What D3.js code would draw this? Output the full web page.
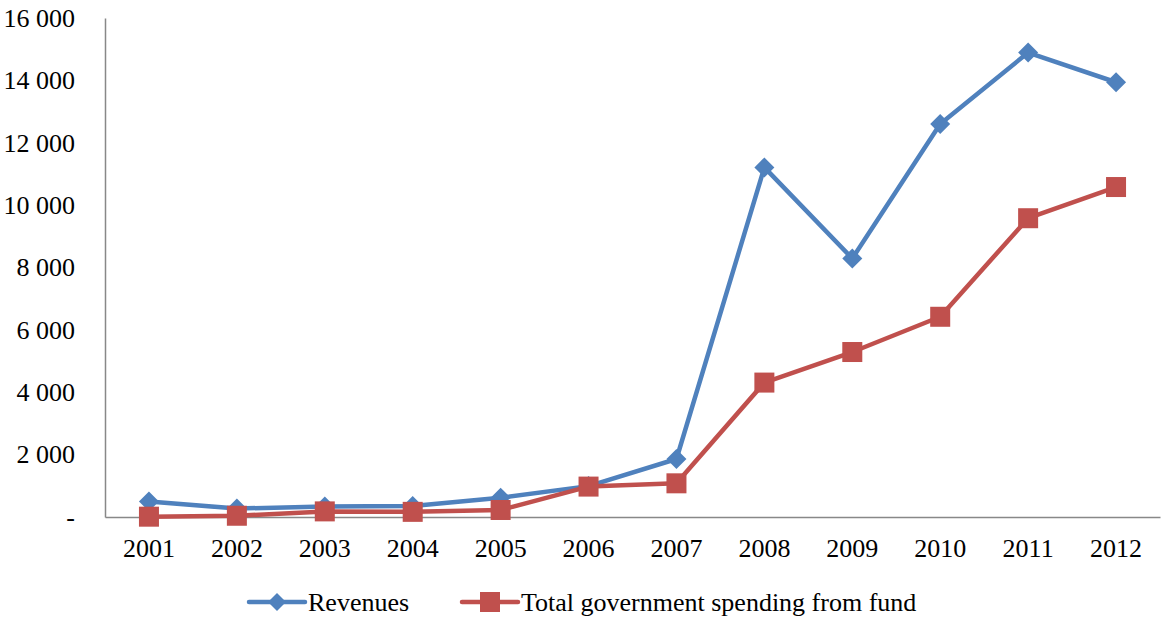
<!DOCTYPE html>
<html>
<head>
<meta charset="utf-8">
<script src="https://cdn.jsdelivr.net/npm/d3@7/dist/d3.min.js"></script>
<style>
  html, body { margin: 0; padding: 0; background: #fff; }
  svg { display: block; }
</style>
</head>
<body>
<svg id="chart" width="1161" height="619"></svg>
<script>
// Fund revenues and spending by year
const years = ["2001", "2002", "2003", "2004", "2005", "2006", "2007", "2008", "2009", "2010", "2011", "2012"];
const revenues = [500, 270, 340, 350, 620, 990, 1860, 11210, 8290, 12600, 14890, 13940];
const spending = [10, 40, 180, 165, 225, 975, 1080, 4310, 5290, 6420, 9580, 10580];
const yTicks = [0, 2000, 4000, 6000, 8000, 10000, 12000, 14000, 16000];
const seriesNames = ["Revenues", "Total government spending from fund"];

const blue = "#4F81BD";
const red = "#C0504D";
const serif = "'Liberation Serif', 'Times New Roman', Times, serif";

const svg = d3.select("#chart");
const plotLeft = 105, plotRight = 1160, plotTop = 18, plotBottom = 517;

const x = d3.scaleBand().domain(years).range([plotLeft, plotRight]);
const y = d3.scaleLinear().domain([0, 16000]).range([plotBottom, plotTop]);
const cx = d => x(d) + x.bandwidth() / 2;

const fmt = v => v === 0 ? "-" : d3.format(",")(v).replace(/,/g, " ");

// Value axis
const yAxis = svg.append("g")
  .attr("transform", `translate(${plotLeft},0)`)
  .call(d3.axisLeft(y).tickValues(yTicks).tickFormat(fmt).tickSize(0).tickPadding(30));
yAxis.attr("font-family", serif).attr("font-size", 26);
yAxis.select(".domain").attr("stroke", "#888").attr("stroke-width", 1.5);
yAxis.selectAll("text").style("font-family", serif).style("font-size", "26px").attr("fill", "#000");

// Category axis
const xAxis = svg.append("g")
  .attr("transform", `translate(0,${plotBottom})`)
  .call(d3.axisBottom(x).tickSize(0).tickPadding(22));
xAxis.attr("font-family", serif).attr("font-size", 26);
xAxis.select(".domain").attr("stroke", "#888").attr("stroke-width", 1.5);
xAxis.selectAll("text").style("font-family", serif).style("font-size", "26px").attr("fill", "#000");

const line = d3.line().x((d, i) => cx(years[i])).y(d => y(d));

const diamond = (px, py, r) => `M${px},${py - r}L${px + r},${py}L${px},${py + r}L${px - r},${py}Z`;

// Revenues series
svg.append("path").datum(revenues)
  .attr("d", line).attr("fill", "none").attr("stroke", blue)
  .attr("stroke-width", 4.5).attr("stroke-linejoin", "round");
svg.append("g").selectAll("path").data(revenues).join("path")
  .attr("d", (d, i) => diamond(cx(years[i]), y(d), 10))
  .attr("fill", blue);

// Spending series
svg.append("path").datum(spending)
  .attr("d", line).attr("fill", "none").attr("stroke", red)
  .attr("stroke-width", 4.5).attr("stroke-linejoin", "round");
svg.append("g").selectAll("rect").data(spending).join("rect")
  .attr("x", (d, i) => cx(years[i]) - 10).attr("y", d => y(d) - 10)
  .attr("width", 20).attr("height", 20)
  .attr("fill", red);

// Legend
const legendY = 602;
const lg = svg.append("g").style("font-family", serif).style("font-size", "26px");
lg.append("line").attr("x1", 249).attr("x2", 305).attr("y1", legendY).attr("y2", legendY)
  .attr("stroke", blue).attr("stroke-width", 4.5).attr("stroke-linecap", "round");
lg.append("path").attr("d", diamond(277, legendY, 9)).attr("fill", blue);
lg.append("text").attr("x", 308).attr("y", legendY + 9).text(seriesNames[0]);

lg.append("line").attr("x1", 462).attr("x2", 518).attr("y1", legendY).attr("y2", legendY)
  .attr("stroke", red).attr("stroke-width", 4.5).attr("stroke-linecap", "round");
lg.append("rect").attr("x", 480).attr("y", legendY - 10).attr("width", 20).attr("height", 20).attr("fill", red);
lg.append("text").attr("x", 521).attr("y", legendY + 9).text(seriesNames[1]);
</script>
</body>
</html>
